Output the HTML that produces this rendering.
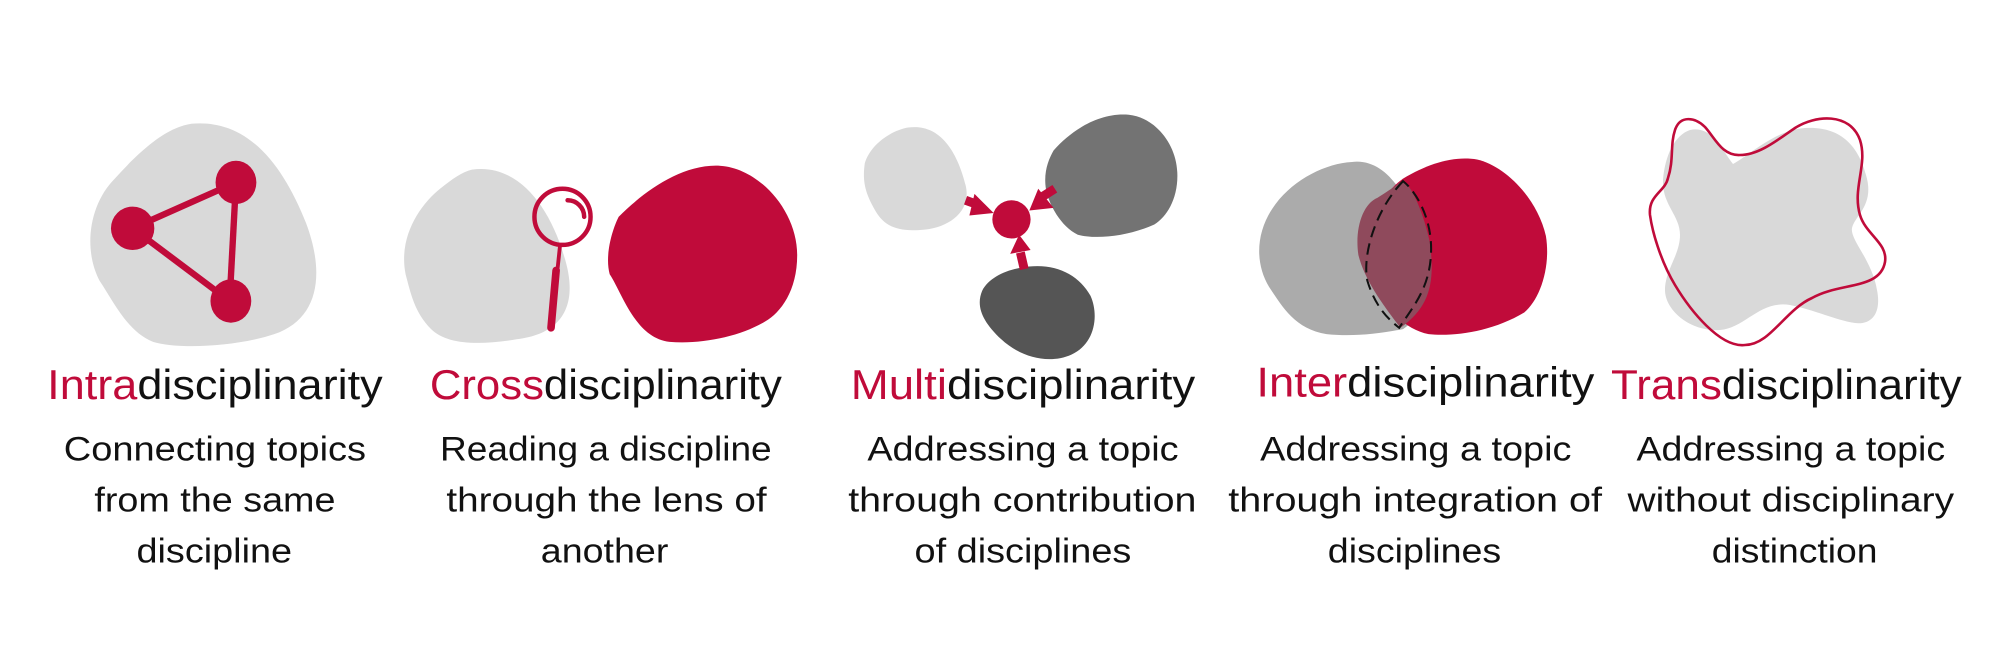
<!DOCTYPE html>
<html><head><meta charset="utf-8"><style>
html,body{margin:0;padding:0;background:#fff;}
svg{display:block}
text{font-family:"Liberation Sans Narrow","Liberation Sans",sans-serif;}
.t{font-size:33px;fill:#111}
.d{font-size:27px;fill:#111}
.r{fill:#c00b3a}
</style></head><body>
<svg width="2000" height="667" viewBox="0 0 2000 667" xmlns="http://www.w3.org/2000/svg">
<g transform="scale(1.2755)">
<!-- Panel 1 -->
<path d="M150 97 C195 93 222 130 240 175 C255 215 250 250 215 262 C185 272 140 274 120 268 C100 260 90 238 78 220 C65 195 70 160 90 140 C110 118 130 100 150 97Z" fill="#d9d9d9"/>
<g stroke="#c00b3a" stroke-width="5"><line x1="185" y1="143" x2="104" y2="179"/><line x1="104" y1="179" x2="180" y2="236"/><line x1="185" y1="143" x2="180" y2="236"/></g>
<ellipse cx="185" cy="143" rx="16" ry="17" fill="#c00b3a"/>
<ellipse cx="104" cy="179" rx="17" ry="17" fill="#c00b3a"/>
<ellipse cx="181" cy="236" rx="16" ry="17" fill="#c00b3a"/>
<!-- Panel 2 -->
<path d="M370 133 C405 128 430 160 442 200 C455 240 440 262 405 266 C375 271 350 270 338 258 C325 245 322 230 318 215 C312 185 330 160 345 148 C355 140 362 135 370 133Z" fill="#d9d9d9"/>
<path d="M485 170 C505 150 535 128 565 130 C595 132 625 165 625 200 C625 228 612 245 600 252 C580 264 550 270 525 268 C498 265 488 230 478 215 C474 200 480 180 485 170Z" fill="#c00b3a"/>
<circle cx="441" cy="170" r="22" fill="none" stroke="#c00b3a" stroke-width="3.5"/>
<path d="M445 157 A13 13 0 0 1 458 170" fill="none" stroke="#c00b3a" stroke-width="3.5" stroke-linecap="round"/>
<line x1="439" y1="193" x2="437" y2="212" stroke="#c00b3a" stroke-width="3"/>
<line x1="436" y1="212" x2="432" y2="257" stroke="#c00b3a" stroke-width="6" stroke-linecap="round"/>
<!-- Panel 3 -->
<path d="M712 100 C740 96 752 125 757 145 C762 165 745 178 725 180 C705 182 695 178 688 168 C678 152 676 142 678 128 C683 112 700 102 712 100Z" fill="#d9d9d9"/>
<path d="M826 118 C840 102 862 88 885 90 C905 92 922 112 923 135 C924 155 915 170 905 176 C885 185 860 188 845 184 C832 178 822 160 820 148 C818 135 822 125 826 118Z" fill="#737373"/>
<path d="M800 210 C825 205 845 214 855 232 C862 248 858 270 840 278 C822 286 800 280 785 266 C770 252 765 240 770 228 C775 218 788 212 800 210Z" fill="#555"/>
<circle cx="793" cy="172" r="15" fill="#c00b3a"/>
<g stroke="#c00b3a" stroke-width="7"><line x1="757" y1="157" x2="768" y2="161"/><line x1="827" y1="148" x2="816" y2="155"/><line x1="803" y1="211" x2="800" y2="198"/></g>
<polygon points="764,152 779,167 760,169" fill="#c00b3a"/>
<polygon points="807,165 826,163 814,148" fill="#c00b3a"/>
<polygon points="792,199 808,196 799,184" fill="#c00b3a"/>
<!-- Panel 4 -->
<path d="M1060 127 C1085 124 1102 150 1112 180 C1125 215 1120 245 1100 258 C1080 262 1060 264 1040 262 C1015 258 1005 240 995 225 C983 205 985 180 1000 160 C1015 140 1040 128 1060 127Z" fill="#ababab"/>
<path d="M1100 140 C1120 128 1140 122 1158 125 C1180 130 1205 155 1212 185 C1216 210 1207 235 1195 245 C1170 260 1140 264 1120 262 C1100 258 1085 240 1075 220 C1070 205 1072 185 1080 165 C1086 152 1092 146 1100 140Z" fill="#c00b3a"/>
<path d="M1100 141 C1110 150 1118 175 1121 190 C1125 220 1122 240 1098 257 C1085 240 1070 220 1065 200 C1062 180 1068 160 1080 155 C1088 150 1094 146 1100 141Z" fill="#8f4a5c"/>
<path d="M1100 142 C1078 165 1068 200 1072 220 C1078 240 1088 250 1097 257 C1108 240 1122 225 1122 195 C1122 170 1110 150 1100 142Z" fill="none" stroke="#111" stroke-width="1.6" stroke-dasharray="9,5"/>
</g>
<!-- Panel 5 (original coords) -->
<path d="M1690 130 C1712 125 1722 150 1733 164 C1750 155 1775 130 1805 128 C1840 126 1858 145 1866 175 C1875 205 1855 215 1852 228 C1850 240 1872 260 1877 290 C1882 315 1870 325 1855 323 C1835 320 1815 310 1790 305 C1760 300 1745 328 1720 330 C1690 332 1665 310 1665 290 C1665 270 1680 255 1680 235 C1680 215 1662 205 1663 180 C1665 155 1675 135 1690 130Z" fill="#d9d9d9"/>
<path d="M1675 130 C1680 115 1695 117 1705 127 C1715 138 1722 156 1740 155 C1760 155 1780 138 1795 128 C1815 115 1850 112 1860 140 C1868 165 1852 188 1860 215 C1866 235 1888 243 1885 262 C1880 290 1840 282 1812 298 C1785 310 1770 345 1745 345 C1720 348 1690 310 1675 285 C1660 260 1652 230 1650 215 C1648 195 1665 192 1668 178 C1674 160 1670 145 1675 130Z" fill="none" stroke="#c00b3a" stroke-width="2.6"/>
<g transform="scale(1.2755)">
<text class="t" x="37" y="313" textLength="263" lengthAdjust="spacingAndGlyphs"><tspan class="r">Intra</tspan>disciplinarity</text>
<text class="t" x="337" y="313" textLength="276" lengthAdjust="spacingAndGlyphs"><tspan class="r">Cross</tspan>disciplinarity</text>
<text class="t" x="667" y="313" textLength="270" lengthAdjust="spacingAndGlyphs"><tspan class="r">Multi</tspan>disciplinarity</text>
<text class="t" x="985" y="311" textLength="265" lengthAdjust="spacingAndGlyphs"><tspan class="r">Inter</tspan>disciplinarity</text>
<text class="t" x="1263" y="313" textLength="275" lengthAdjust="spacingAndGlyphs"><tspan class="r">Trans</tspan>disciplinarity</text>
<text class="d" x="50" y="361" textLength="237" lengthAdjust="spacingAndGlyphs">Connecting topics</text>
<text class="d" x="74" y="401" textLength="189" lengthAdjust="spacingAndGlyphs">from the same</text>
<text class="d" x="107" y="441" textLength="122" lengthAdjust="spacingAndGlyphs">discipline</text>
<text class="d" x="345" y="361" textLength="260" lengthAdjust="spacingAndGlyphs">Reading a discipline</text>
<text class="d" x="350" y="401" textLength="251" lengthAdjust="spacingAndGlyphs">through the lens of</text>
<text class="d" x="424" y="441" textLength="100" lengthAdjust="spacingAndGlyphs">another</text>
<text class="d" x="680" y="361" textLength="244" lengthAdjust="spacingAndGlyphs">Addressing a topic</text>
<text class="d" x="665" y="401" textLength="273" lengthAdjust="spacingAndGlyphs">through contribution</text>
<text class="d" x="717" y="441" textLength="170" lengthAdjust="spacingAndGlyphs">of disciplines</text>
<text class="d" x="988" y="361" textLength="244" lengthAdjust="spacingAndGlyphs">Addressing a topic</text>
<text class="d" x="963" y="401" textLength="293" lengthAdjust="spacingAndGlyphs">through integration of</text>
<text class="d" x="1041" y="441" textLength="136" lengthAdjust="spacingAndGlyphs">disciplines</text>
<text class="d" x="1283" y="361" textLength="242" lengthAdjust="spacingAndGlyphs">Addressing a topic</text>
<text class="d" x="1276" y="401" textLength="256" lengthAdjust="spacingAndGlyphs">without disciplinary</text>
<text class="d" x="1342" y="441" textLength="130" lengthAdjust="spacingAndGlyphs">distinction</text>
</g>
</svg>
</body></html>
